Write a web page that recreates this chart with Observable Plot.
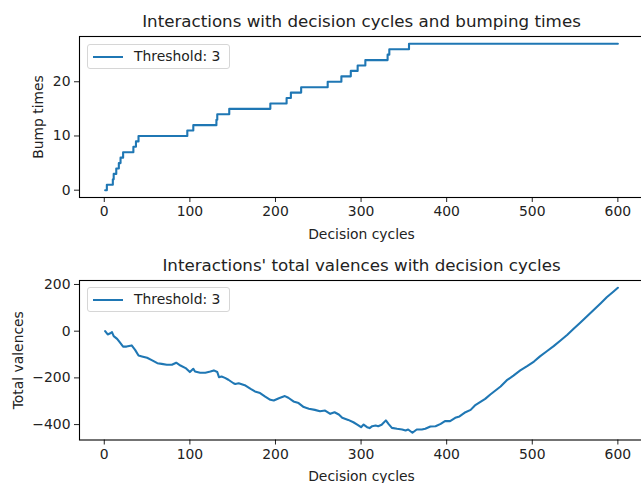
<!DOCTYPE html>
<html><head><meta charset="utf-8">
<script src="https://cdn.jsdelivr.net/npm/d3@7"></script>
<script src="https://cdn.jsdelivr.net/npm/@observablehq/plot@0.6"></script>
<style>
html,body{margin:0;padding:0;background:#fff;}
#wrap{position:relative;width:641px;height:483px;overflow:hidden;font-family:"DejaVu Sans",sans-serif;background:#fff;}
.plot{position:absolute;left:0;max-width:none !important;}
.legend{position:absolute;left:87px;width:143px;height:25px;border:1px solid #d6d6d6;border-radius:3px;background:rgba(255,255,255,0.8);box-sizing:border-box;}
.legend .sw{position:absolute;left:5px;top:11px;width:30px;height:2px;background:#1f77b4;}
.legend .lb{position:absolute;left:46px;top:3px;font-size:13.9px;line-height:16px;color:#222;white-space:nowrap;}
</style>
</head><body>
<div id="wrap"></div>
<script>
// ---- data ----
const xTicks = [0, 100, 200, 300, 400, 500, 600];
const topYTicks = [0, 10, 20];
const bottomYTicks = [-400, -200, 0, 200];
const seriesName = "Threshold: 3";

// bump count reached at each decision cycle (step changes)
const topCycles = [1, 3, 10, 11, 14, 17, 19, 22, 34, 37, 40, 97, 104, 131, 132, 146, 194, 213, 218, 230, 261, 277, 288, 296, 305, 331, 333, 356, 600];
const topBumps  = [0, 1, 2, 3, 4, 5, 6, 7, 8, 9, 10, 11, 12, 13, 14, 15, 16, 17, 18, 19, 20, 21, 22, 23, 24, 25, 26, 27, 27];

// total valences sampled along decision cycles
const bottomCycles = [1, 4, 7, 9, 11, 15, 18, 22, 26, 32, 36, 40, 44, 50, 56, 62, 67, 73, 79, 84, 89, 95, 100, 104, 106, 112, 118, 124, 128, 132, 134, 137, 141, 145, 151, 153, 157, 165, 171, 176, 182, 188, 194, 198, 204, 211, 215, 221, 227, 233, 239, 246, 252, 258, 264, 269, 274, 278, 285, 291, 296, 300, 303, 307, 310, 313, 317, 320, 324, 329, 332, 336, 342, 348, 352, 355, 360, 365, 371, 375, 381, 387, 393, 398, 404, 410, 415, 422, 428, 433, 439, 445, 451, 457, 463, 470, 478, 486, 494, 502, 509, 517, 525, 533, 541, 548, 556, 564, 572, 580, 587, 595, 600];
const bottomValences = [0, -14, -9, -4, -21, -33, -47, -66, -66, -61, -80, -104, -108, -114, -125, -137, -140, -144, -144, -135, -147, -158, -175, -161, -173, -178, -178, -173, -168, -175, -197, -194, -200, -208, -223, -226, -223, -233, -247, -258, -265, -280, -294, -297, -287, -278, -285, -301, -308, -325, -332, -337, -343, -340, -354, -347, -357, -371, -380, -390, -401, -411, -400, -411, -415, -407, -404, -407, -401, -382, -397, -414, -418, -421, -425, -421, -435, -421, -421, -418, -408, -407, -397, -385, -385, -371, -365, -347, -337, -318, -304, -290, -271, -254, -237, -211, -190, -168, -150, -130, -108, -86, -64, -40, -15, 9, 36, 64, 92, 120, 145, 170, 186];

const topData = topCycles.map((c, i) => ({cycle: c, bumps: topBumps[i]}));
const bottomData = bottomCycles.map((c, i) => ({cycle: c, valence: bottomValences[i]}));

// ---- drawing ----
const blue = "#1f77b4";
const font = '"DejaVu Sans", sans-serif';
const minus = d => d < 0 ? "\u2212" + Math.abs(d) : String(d);
const style = {fontFamily: font, fontSize: "13.9px", color: "#222", background: "white", overflow: "visible", maxWidth: "none"};

const topPlot = Plot.plot({
  width: 646, height: 250,
  marginLeft: 79, marginRight: 3, marginTop: 36, marginBottom: 53,
  style,
  x: {domain: [-28.95, 629.95]},
  y: {domain: [-1.35, 28.35]},
  marks: [
    Plot.axisX({ticks: xTicks, tickSize: 5, tickPadding: 4, label: null, tickFormat: minus}),
    Plot.axisY({ticks: topYTicks, tickSize: 5, tickPadding: 4, label: null, tickFormat: minus}),
    Plot.line(topData, {x: "cycle", y: "bumps", curve: "step-after", stroke: blue, strokeWidth: 2.1}),
    Plot.frame({stroke: "#000", strokeWidth: 1.1}),
    Plot.text(["Interactions with decision cycles and bumping times"], {frameAnchor: "top", lineAnchor: "middle", dy: -15, fontSize: 16.7}),
    Plot.text(["Decision cycles"], {frameAnchor: "bottom", lineAnchor: "middle", dy: 37}),
    Plot.text(["Bump times"], {frameAnchor: "left", textAnchor: "middle", lineAnchor: "middle", dx: -41, rotate: -90})
  ]
});

const bottomPlot = Plot.plot({
  width: 646, height: 233,
  marginLeft: 79, marginRight: 3, marginTop: 30, marginBottom: 43.5,
  style,
  x: {domain: [-28.95, 629.95]},
  y: {domain: [-466, 217]},
  marks: [
    Plot.axisX({ticks: xTicks, tickSize: 5, tickPadding: 4, label: null, tickFormat: minus}),
    Plot.axisY({ticks: bottomYTicks, tickSize: 5, tickPadding: 4, label: null, tickFormat: minus}),
    Plot.line(bottomData, {x: "cycle", y: "valence", stroke: blue, strokeWidth: 2.1}),
    Plot.frame({stroke: "#000", strokeWidth: 1.1}),
    Plot.text(["Interactions' total valences with decision cycles"], {frameAnchor: "top", lineAnchor: "middle", dy: -15, fontSize: 16.7}),
    Plot.text(["Decision cycles"], {frameAnchor: "bottom", lineAnchor: "middle", dy: 37}),
    Plot.text(["Total valences"], {frameAnchor: "left", textAnchor: "middle", lineAnchor: "middle", dx: -61, rotate: -90})
  ]
});

const wrap = document.getElementById("wrap");
topPlot.classList.add("plot"); topPlot.style.top = "0px"; topPlot.style.position = "absolute";
bottomPlot.classList.add("plot"); bottomPlot.style.top = "250px"; bottomPlot.style.position = "absolute";
wrap.appendChild(topPlot);
wrap.appendChild(bottomPlot);

function legend(topPx) {
  const d = document.createElement("div");
  d.className = "legend";
  d.style.top = topPx + "px";
  const sw = document.createElement("div"); sw.className = "sw";
  const lb = document.createElement("div"); lb.className = "lb"; lb.textContent = seriesName;
  d.appendChild(sw); d.appendChild(lb);
  wrap.appendChild(d);
}
legend(44);
legend(287);
</script>
</body></html>
